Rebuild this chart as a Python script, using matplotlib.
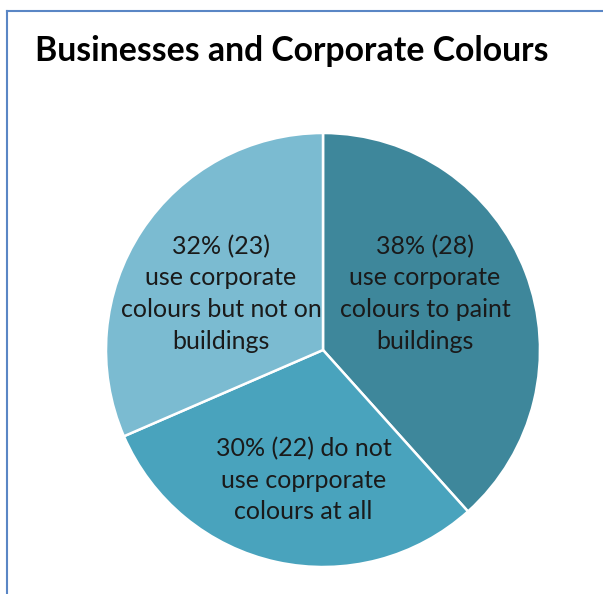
import numpy as np
from matplotlib import pyplot as plt
from matplotlib.lines import Line2D

# data
counts = [28, 22, 23]
percents = [38, 30, 32]
labels = ['use corporate\ncolours to paint\nbuildings',
          'do not\nuse coprporate\ncolours at all',
          'use corporate\ncolours but not on\nbuildings']
colors = ['#3e879b', '#49a3bd', '#7bbbd1']

# label positions in pie units (radius 1)
label_pos = [(0.47, 0.26), (-0.09, -0.60), (-0.47, 0.26)]

plt.rcParams['font.family'] = ['Lato', 'DejaVu Sans']

fig = plt.figure(figsize=(6.03, 5.94), dpi=100)

# pie centre (323, 350) px, radius 217 px
cx, cy, r = 323, 350, 217
pad = 1.05
w = 2 * r * pad
ax = fig.add_axes([(cx - r * pad) / 603, (594 - cy - r * pad) / 594, w / 603, w / 594])

wedges, _ = ax.pie(counts, colors=colors, startangle=90, counterclock=False,
                   wedgeprops=dict(edgecolor='white', linewidth=1.8))
ax.set_xlim(-pad, pad)
ax.set_ylim(-pad, pad)
ax.set_aspect('equal')
ax.axis('off')

for i in range(len(counts)):
    if i == 1:
        t = '%d%% (%d) %s' % (percents[i], counts[i], labels[i])
    else:
        t = '%d%% (%d)\n%s' % (percents[i], counts[i], labels[i])
    ax.text(label_pos[i][0], label_pos[i][1], t, ha='center', va='center',
            fontsize=18, color='#1a1a1a', linespacing=1.45)

# title
fig.text(35 / 603, 1 - 51 / 594, 'Businesses and Corporate Colours',
         fontsize=24.3, fontweight='bold', color='black', va='center', ha='left')

# chart border (cropped)
border = '#5a86c5'
fig.add_artist(Line2D([7 / 603, 7 / 603], [0, 1 - 11 / 594], color=border, lw=1.5))
fig.add_artist(Line2D([7 / 603, 1], [1 - 11 / 594, 1 - 11 / 594], color=border, lw=1.5))

plt.savefig('out.png', dpi=100)
